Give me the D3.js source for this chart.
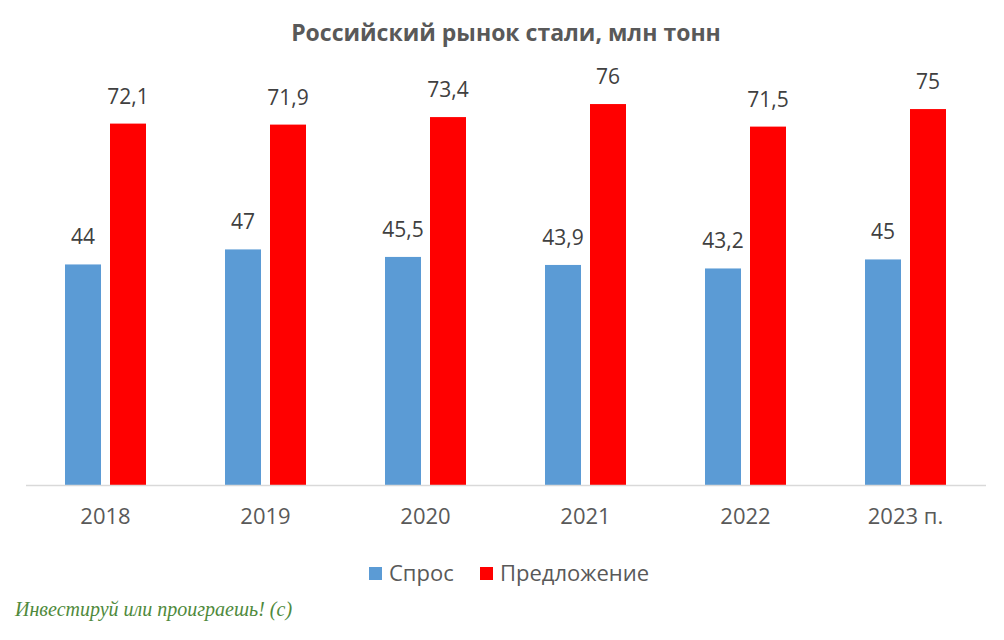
<!DOCTYPE html>
<html>
<head>
<meta charset="utf-8">
<script src="https://cdn.jsdelivr.net/npm/d3@7"></script>
<style>
  body { margin: 0; background: #fff; }
  text { font-family: "Open Sans", "Noto Sans", sans-serif; }
</style>
</head>
<body>
<div id="chart"></div>
<script>
let wSvg = 1004; let hSvg = 640;

// data
const years = ["2018", "2019", "2020", "2021", "2022", "2023 п."];
const demand = [44, 47, 45.5, 43.9, 43.2, 45];
const supply = [72.1, 71.9, 73.4, 76, 71.5, 75];
const seriesNames = ["Спрос", "Предложение"];

const blueColor = "#5B9BD5";
const redColor = "#FF0000";
const textColor = "#595959";

const svg = d3.select("#chart")
    .append("svg")
    .attr("width", wSvg)
    .attr("height", hSvg)
    .style("background", "#fff");

const xScale = d3.scaleBand()
    .domain(years)
    .range([25.5, 985.5]);

// 36px bars with a 9px gap inside each year
const xInner = d3.scaleBand()
    .domain(seriesNames)
    .range([39.5, 120.5])
    .paddingInner(0.2);

const yScale = d3.scaleLinear()
    .domain([0, 80])
    .range([485, 84]);

// title
svg.append("text")
    .attr("x", 506)
    .attr("y", 41)
    .attr("text-anchor", "middle")
    .attr("font-size", "23px")
    .attr("font-weight", "bold")
    .attr("fill", textColor)
    .text("Российский рынок стали, млн тонн");

// bars
const rows = years.map((y, i) => ({year: y, values: [
    {name: seriesNames[0], value: demand[i], color: blueColor},
    {name: seriesNames[1], value: supply[i], color: redColor}
]}));

const groups = svg.append("g")
    .selectAll("g")
    .data(rows)
    .join("g")
    .attr("transform", d => `translate(${xScale(d.year)},0)`);

groups.selectAll("rect")
    .data(d => d.values)
    .join("rect")
    .attr("x", d => xInner(d.name))
    .attr("width", xInner.bandwidth())
    .attr("y", d => yScale(d.value))
    .attr("height", d => yScale(0) - yScale(d.value))
    .attr("fill", d => d.color);

groups.selectAll("text.val")
    .data(d => d.values)
    .join("text")
    .attr("class", "val")
    .attr("x", d => xInner(d.name) + xInner.bandwidth() / 2)
    .attr("y", d => yScale(d.value) - 20)
    .attr("text-anchor", "middle")
    .attr("font-size", "21px")
    .attr("fill", "#404040")
    .text(d => String(d.value).replace(".", ","));

// x axis
const axisBottom = d3.axisBottom(xScale).tickSize(0).tickPadding(23);
const gx = svg.append("g")
    .attr("transform", `translate(0, ${yScale(0)})`)
    .call(axisBottom);
gx.select(".domain").attr("stroke", "#D9D9D9").attr("stroke-width", 1.5);
gx.selectAll("text")
    .attr("font-size", "22px")
    .attr("fill", textColor)
    .style("font-family", "'Open Sans', sans-serif");

// legend
const legendItems = [
    {name: seriesNames[0], color: blueColor, x: 369},
    {name: seriesNames[1], color: redColor, x: 480}
];
const legend = svg.append("g");
legend.selectAll("rect")
    .data(legendItems)
    .join("rect")
    .attr("x", d => d.x)
    .attr("y", 567)
    .attr("width", 13)
    .attr("height", 13)
    .attr("fill", d => d.color);
legend.selectAll("text")
    .data(legendItems)
    .join("text")
    .attr("x", d => d.x + 20)
    .attr("y", 581)
    .attr("font-size", "22px")
    .attr("fill", textColor)
    .text(d => d.name);

// watermark
svg.append("text")
    .attr("x", 15)
    .attr("y", 616)
    .attr("font-size", "20px")
    .attr("font-style", "italic")
    .attr("fill", "#4F8A3C")
    .style("font-family", "'Liberation Serif', serif")
    .text("Инвестируй или проиграешь! (c)");
</script>
</body>
</html>
